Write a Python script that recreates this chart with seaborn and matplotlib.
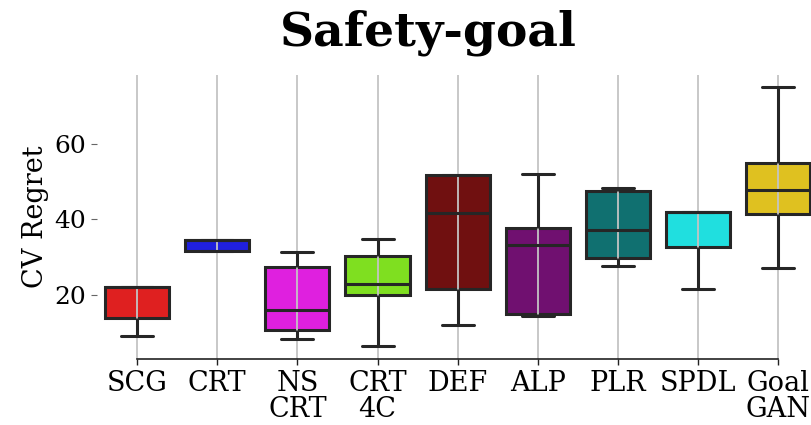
import numpy as np
import pandas as pd
import matplotlib
matplotlib.use("Agg")
import matplotlib.pyplot as plt
import seaborn as sns

# Methods and their five-number summaries of CV regret
methods = ["SCG", "CRT", "NS\nCRT", "CRT\n4C", "DEF", "ALP", "PLR", "SPDL", "Goal\nGAN"]
mins    = [9.0, 31.6, 8.3, 6.5, 12.1, 14.3, 27.7, 21.5, 27.1]
q1s     = [14.0, 31.6, 10.7, 20.0, 21.5, 15.0, 29.7, 32.6, 41.5]
medians = [22.2, 34.6, 16.0, 22.8, 41.6, 33.2, 37.2, 42.1, 47.8]
q3s     = [22.2, 34.6, 27.3, 30.2, 51.8, 37.7, 47.6, 42.1, 55.1]
maxs    = [22.2, 34.6, 31.5, 34.7, 51.8, 52.1, 48.3, 42.1, 75.2]
colors  = ["red", "blue", "magenta", "chartreuse", "maroon", "purple", "teal", "cyan", "gold"]

# Long-form table: five values per method reproduce the summary exactly
rows = []
for m, a, b, c, d, e in zip(methods, mins, q1s, medians, q3s, maxs):
    for v in (a, b, c, d, e):
        rows.append({"method": m, "value": v})
df = pd.DataFrame(rows)

sns.set_style("whitegrid")
plt.rcParams["font.family"] = ["DejaVu Serif"]
plt.rcParams["text.color"] = "black"
plt.rcParams["axes.labelcolor"] = "black"
plt.rcParams["xtick.color"] = "black"
plt.rcParams["ytick.color"] = "black"

fig = plt.figure(figsize=(8.12, 4.25), dpi=100)
ax = fig.add_axes([97 / 812, 1 - 359 / 425, 1 - 97 / 812, (359 - 75) / 425])

sns.boxplot(data=df, x="method", y="value", hue="method", palette=colors,
            order=methods, hue_order=methods, whis=(0, 100), width=0.8,
            linewidth=2.2, legend=False, ax=ax)

# Vertical grid only, drawn over the box faces but under the lines
ax.grid(axis="y", visible=False)
ax.grid(axis="x", color="#c4c4c4", linewidth=1.3)
ax.set_axisbelow("line")
for p in ax.patches:
    p.set_zorder(1)

ax.set_ylim(3.0, 78.3)
ax.set_xlim(-0.5, 8.42)
ax.set_yticks([20, 40, 60])
ax.set_xlabel("")
ax.set_ylabel("CV Regret", fontsize=19.5, labelpad=4)
ax.tick_params(axis="x", labelsize=19.5)
ax.tick_params(axis="y", labelsize=18)
ax.tick_params(axis="y", left=True, length=4, width=0.8, color="#666666", pad=4)
ax.tick_params(axis="x", bottom=True, length=4, width=1, color="#222222", pad=4)
for lbl in ax.get_xticklabels():
    lbl.set_linespacing(0.95)

sns.despine(ax=ax, left=True, trim=True)
ax.spines["bottom"].set_color("#222222")
ax.spines["bottom"].set_linewidth(1.2)

fig.text(428 / 812, 1 - 45 / 425, "Safety-goal", ha="center", va="baseline",
         fontsize=34, fontweight="bold", color="black")

fig.savefig("out.png", dpi=100)
